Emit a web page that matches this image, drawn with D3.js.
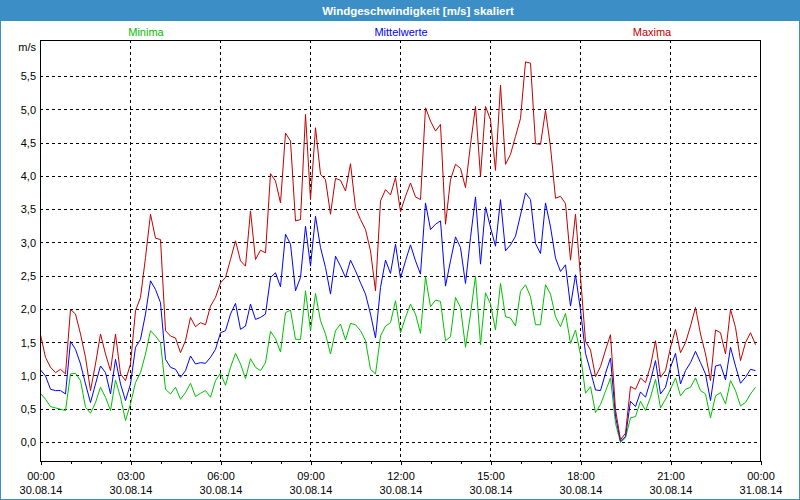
<!DOCTYPE html>
<html>
<head>
<meta charset="utf-8">
<script src="https://cdn.jsdelivr.net/npm/d3@7"></script>
<style>
  html, body { margin: 0; padding: 0; background: #fff; }
  svg { display: block; }
  text { font-family: "Liberation Sans", Arial, sans-serif; }
</style>
</head>
<body>
<svg id="chart" width="800" height="500"></svg>
<script>
// ---- DATA (10-minute values, 30.08.14 00:00 .. 23:50) ----
const title = "Windgeschwindigkeit [m/s] skaliert";
const seriesNames = ["Minima", "Mittelwerte", "Maxima"];
const yUnit = "m/s";

const maxima = [
  1.62,1.28,1.13,1.05,1.1,1.03,2.0,1.93,1.63,1.28,0.78,1.18,1.63,1.33,1.08,1.63,1.03,0.93,1.18,1.98,2.18,2.78,3.43,3.07,3.05,
  1.68,1.6,1.57,1.35,1.53,1.88,1.74,1.8,1.77,2.05,2.18,2.4,2.48,2.75,3.03,2.73,2.65,3.48,2.75,2.89,2.85,4.04,
  3.93,3.6,
  4.65,4.53,3.33,3.35,4.93,3.65,4.73,4.03,3.95,3.43,3.97,3.94,3.78,4.19,3.53,3.35,3.2,2.88,2.28,3.63,3.8,3.72,
  3.98,3.47,
  3.7,3.9,3.69,3.65,5.03,4.83,4.68,4.78,3.28,3.95,4.18,4.12,3.83,4.48,5.05,4.0,5.05,4.85,4.09,5.37,4.18,4.33,
  4.6,4.87,
  5.72,5.7,4.49,4.48,4.99,4.44,3.67,3.7,3.59,2.74,3.43,2.49,1.52,1.39,0.99,1.14,1.39,1.62,0.49,0.04,0.14,0.84,
  0.8,0.97,
  0.9,1.15,1.53,0.98,1.08,1.43,1.7,1.35,1.5,1.75,2.03,1.63,1.33,0.93,1.69,1.65,1.33,2.0,1.73,1.23,1.5,1.65,1.47
];
const mittelwerte = [
  1.09,1.0,0.8,0.78,0.78,0.73,1.52,1.4,1.18,0.88,0.6,0.88,1.15,1.05,0.73,1.25,0.88,0.63,0.88,1.43,1.55,1.93,2.43,2.3,2.1,
  1.25,1.13,1.1,0.98,1.08,1.3,1.18,1.2,1.19,1.28,1.4,1.65,1.68,1.93,2.09,1.7,1.75,2.08,1.85,1.88,1.93,2.48,
  2.55,2.34,
  3.13,2.98,2.28,2.48,3.25,2.65,3.4,2.93,2.63,2.23,2.8,2.65,2.48,2.74,2.58,2.4,2.23,1.93,1.57,2.33,2.74,2.54,
  2.98,2.47,
  2.73,2.97,2.73,2.53,3.6,3.2,3.28,3.33,2.35,2.73,3.09,2.93,2.39,3.08,3.69,2.68,3.54,3.23,2.95,3.65,2.88,2.97,
  3.1,3.42,
  3.75,3.65,2.99,2.84,3.6,3.24,2.77,2.57,2.67,2.05,2.52,1.99,1.34,1.07,0.79,0.78,1.04,1.27,0.39,0.02,0.09,0.62,
  0.54,0.76,
  0.68,0.93,1.23,0.73,0.83,1.13,1.34,0.88,1.08,1.2,1.37,1.2,1.03,0.63,1.15,1.17,0.94,1.43,1.15,0.89,0.98,1.1,1.08
];
const minima = [
  0.74,0.65,0.54,0.52,0.5,0.48,1.03,1.04,0.93,0.53,0.44,0.6,0.83,0.68,0.48,0.94,0.68,0.33,0.58,0.9,1.05,1.33,1.68,1.6,1.5,
  0.8,0.73,0.83,0.65,0.75,0.89,0.69,0.74,0.78,0.68,0.93,1.04,0.86,1.13,1.34,1.18,0.96,1.26,1.13,1.08,1.2,1.67,
  1.56,1.36,
  1.95,1.99,1.55,1.55,2.28,1.68,2.24,1.83,1.63,1.33,1.68,1.78,1.54,1.79,1.77,1.68,1.53,1.1,1.03,1.6,1.75,1.8,
  2.13,1.65,
  1.88,2.08,1.93,1.64,2.49,2.04,2.14,2.12,1.53,1.59,2.18,2.03,1.43,1.93,2.5,1.47,2.25,2.08,1.69,2.39,1.89,1.87,
  1.75,2.27,
  2.37,2.19,1.77,1.77,2.37,2.23,1.89,1.74,1.94,1.49,1.69,1.32,0.74,0.84,0.45,0.57,0.77,0.97,0.29,0.0,0.07,0.37,
  0.39,0.62,
  0.48,0.68,0.95,0.52,0.65,0.8,0.97,0.7,0.8,0.83,0.97,0.78,0.73,0.37,0.7,0.75,0.58,0.93,0.78,0.55,0.6,0.73,0.83
];

const xTickHours = [0, 3, 6, 9, 12, 15, 18, 21, 24];
const xTimeLabels = ["00:00","03:00","06:00","09:00","12:00","15:00","18:00","21:00","00:00"];
const xDateLabels = ["30.08.14","30.08.14","30.08.14","30.08.14","30.08.14","30.08.14","30.08.14","30.08.14","31.08.14"];
const yTicks = [0, 0.5, 1, 1.5, 2, 2.5, 3, 3.5, 4, 4.5, 5, 5.5];

// ---- LAYOUT ----
const W = 800, H = 500;
const frame = { left: 40, right: 760, top: 40, bottom: 461 };
const barBlue = "#3c8fc6";
const colMin = "#00c000", colMean = "#0000ff", colMax = "#c00000";

const svg = d3.select("#chart");
const start = new Date(2014, 7, 30, 0, 0);
const end = new Date(2014, 7, 31, 0, 0);
const timeAt = i => new Date(start.getTime() + i * 10 * 60000);

const x = d3.scaleTime().domain([start, end]).range([frame.left, frame.right]);
const y = d3.scaleLinear().domain([0, 5.5]).range([442, 76]);

const locale = d3.formatLocale({ decimal: ",", thousands: ".", grouping: [3], currency: ["", "€"] });
const fmt = locale.format(".1f");

// background + window border + title bar
svg.append("rect").attr("x", 0).attr("y", 0).attr("width", W).attr("height", H).attr("fill", "#fff");
svg.append("rect").attr("x", 0).attr("y", 0).attr("width", W).attr("height", 21).attr("fill", barBlue);
svg.append("rect").attr("x", 0.5).attr("y", 0.5).attr("width", W - 1).attr("height", H - 1)
  .attr("fill", "none").attr("stroke", barBlue);

svg.append("text").attr("x", 418).attr("y", 14.5).attr("text-anchor", "middle")
  .attr("fill", "#fff").attr("font-size", "11.5px").attr("font-weight", "bold").text(title);

// legend
const legendX = [146, 401, 652];
const legendCol = [colMin, colMean, colMax];
svg.selectAll("text.legend").data(seriesNames).join("text").attr("class", "legend")
  .attr("x", (d, i) => legendX[i]).attr("y", 36).attr("text-anchor", "middle")
  .attr("font-size", "11px").attr("fill", (d, i) => legendCol[i]).text(d => d);

// gridlines
const grid = svg.append("g").attr("stroke", "#000").attr("stroke-dasharray", "3,3").attr("shape-rendering", "crispEdges");
grid.selectAll("line.h").data(yTicks).join("line").attr("class", "h")
  .attr("x1", frame.left).attr("x2", frame.right)
  .attr("y1", d => Math.round(y(d)) + 0.5).attr("y2", d => Math.round(y(d)) + 0.5);
grid.selectAll("line.v").data(xTickHours.slice(1, -1)).join("line").attr("class", "v")
  .attr("x1", d => Math.round(x(new Date(start.getTime() + d * 3600000))) + 0.5)
  .attr("x2", d => Math.round(x(new Date(start.getTime() + d * 3600000))) + 0.5)
  .attr("y1", frame.top).attr("y2", frame.bottom);

// y axis labels
const yAxis = d3.axisLeft(y).tickValues(yTicks).tickFormat(fmt).tickSize(0).tickPadding(0);
const gy = svg.append("g").attr("transform", `translate(36,0)`).call(yAxis);
gy.select(".domain").remove();
gy.selectAll("text").attr("font-size", "11px").attr("fill", "#000")
  .attr("font-family", '"Liberation Sans", Arial, sans-serif').attr("dy", "0.35em");
svg.append("text").attr("x", 36).attr("y", 50.5).attr("text-anchor", "end")
  .attr("font-size", "11px").attr("fill", "#000").text(yUnit);

// x axis: minor ticks (hourly), major ticks (3-hourly)
const hours = d3.range(0, 25);
const xAxisMinor = d3.axisBottom(x).tickValues(hours.map(h => new Date(start.getTime() + h * 3600000)))
  .tickFormat("").tickSizeInner(3).tickSizeOuter(0);
const gxm = svg.append("g").attr("transform", `translate(0.5,${frame.bottom})`).call(xAxisMinor);
gxm.select(".domain").remove();
gxm.selectAll("line").attr("shape-rendering", "crispEdges");

const xAxisMajor = d3.axisBottom(x).tickValues(xTickHours.map(h => new Date(start.getTime() + h * 3600000)))
  .tickFormat((d, i) => xTimeLabels[i]).tickSizeInner(4).tickSizeOuter(0).tickPadding(7);
const gx = svg.append("g").attr("transform", `translate(0.5,${frame.bottom})`).call(xAxisMajor);
gx.select(".domain").remove();
gx.selectAll("line").attr("shape-rendering", "crispEdges");
gx.selectAll("text").attr("font-size", "11px").attr("fill", "#000")
  .attr("font-family", '"Liberation Sans", Arial, sans-serif');
gx.selectAll(".tick").append("text").attr("y", 33).attr("fill", "#000")
  .attr("font-size", "11px").attr("font-family", '"Liberation Sans", Arial, sans-serif')
  .text((d, i) => xDateLabels[i]);

// data lines
const line = d3.line().x((d, i) => x(timeAt(i))).y(d => y(d));
const series = [
  { values: minima, color: colMin },
  { values: mittelwerte, color: colMean },
  { values: maxima, color: colMax }
];
svg.append("clipPath").attr("id", "plotclip").append("rect")
  .attr("x", frame.left).attr("y", frame.top).attr("width", frame.right - frame.left).attr("height", frame.bottom - frame.top);
svg.append("g").attr("clip-path", "url(#plotclip)").attr("transform", "translate(0.5,0.5)")
  .selectAll("path").data(series).join("path")
  .attr("d", d => line(d.values)).attr("fill", "none")
  .attr("stroke", d => d.color).attr("stroke-width", 1).attr("stroke-linejoin", "miter");

// plot frame
svg.append("rect").attr("x", frame.left + 0.5).attr("y", frame.top + 0.5)
  .attr("width", frame.right - frame.left).attr("height", frame.bottom - frame.top)
  .attr("fill", "none").attr("stroke", "#000");
</script>
</body>
</html>
